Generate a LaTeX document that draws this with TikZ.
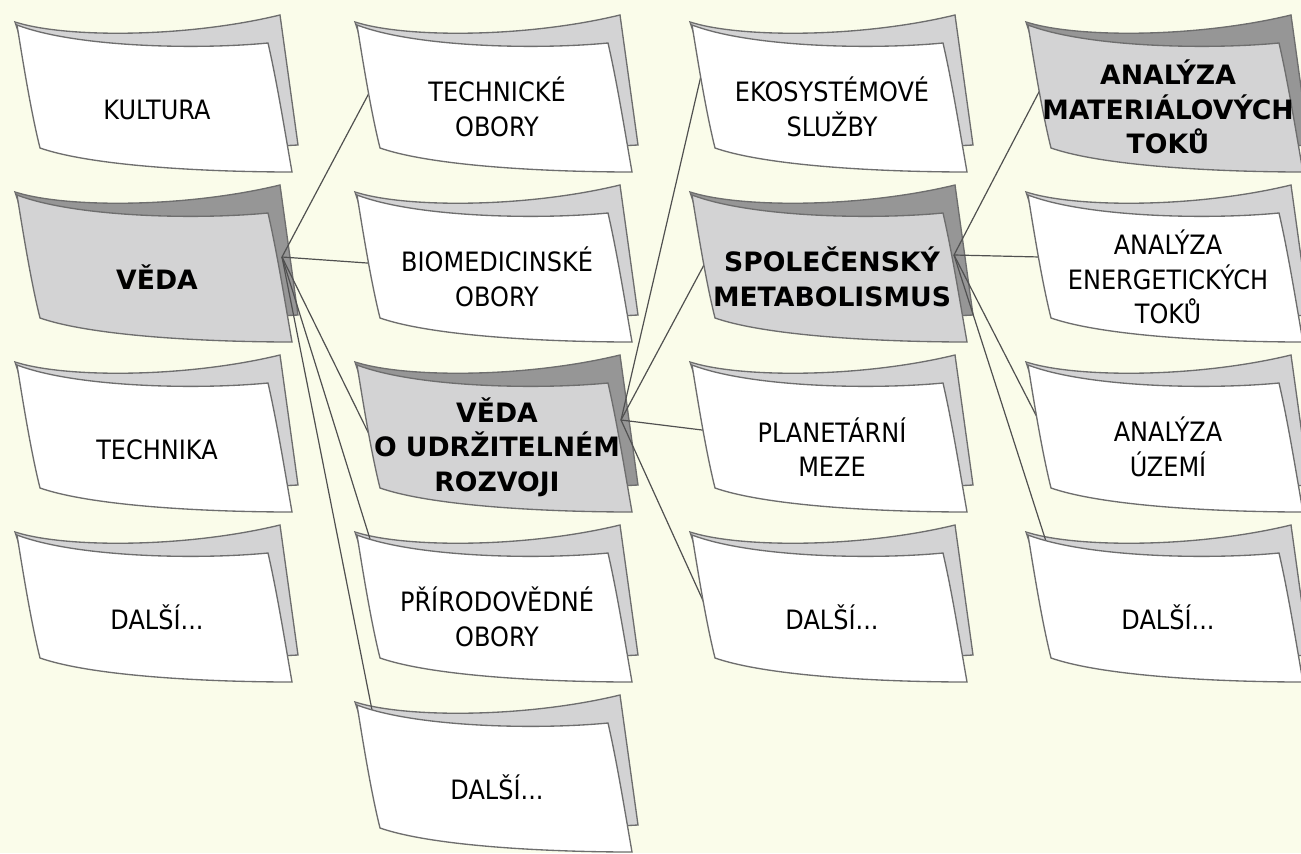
\documentclass[tikz,border=0pt]{standalone}
\usepackage{fontspec}
\setmainfont{DejaVu Sans}
\newfontfamily\condfont{DejaVu Sans}[FakeStretch=0.9]
\usetikzlibrary{calc}

\definecolor{paper}{RGB}{250,252,234}
\definecolor{edgecol}{RGB}{110,110,110}
\definecolor{linkcol}{RGB}{80,80,80}
\definecolor{lightback}{RGB}{211,211,212}
\definecolor{keyfront}{RGB}{211,211,212}
\definecolor{keyback}{RGB}{150,150,150}

\tikzset{
  cardedge/.style={draw=edgecol, line width=1pt},
  link/.style={draw=linkcol, line width=0.9pt, shorten >=-5pt},
  plaintext/.style={font=\condfont\fontsize{20}{26}\selectfont, align=center,
    inner sep=0pt, execute at begin node=\vphantom{Ě}},
  keytext/.style={font=\bfseries\fontsize{20}{26}\selectfont, align=center,
    inner sep=0pt, execute at begin node=\vphantom{Ě}},
}

% back sheet of a card: #1 x, #2 y, #3 fill
\newcommand\cardback[3]{%
  \path[cardedge, fill=#3, shift={(#1,#2)}]
    (0,0) .. controls (50,16) and (170,16) .. (265,-7)
    -- (283,123) -- (150,130) -- (20,60) -- cycle;}

% front sheet with its label: #1 name, #2 x, #3 y, #4 fill, #5 text style, #6 text
\newcommand\cardfront[6]{%
  \begin{scope}[shift={(#2,#3)}]
    \path[cardedge, fill=#4]
      (2,3) .. controls (60,25) and (180,28) .. (253,21)
      .. controls (262,60) and (270,110) .. (277,150)
      .. controls (200,150) and (80,145) .. (25,126)
      .. controls (16,90) and (8,40) .. cycle;
    \node[#5] (#1) at (142,85) {#6};
  \end{scope}}

\begin{document}
\begin{tikzpicture}[x=0.75pt, y=-0.75pt]
  \useasboundingbox (0,0) rectangle (1301,853);
  \clip (0,0) rectangle (1301,853);
  \fill[paper] (0,0) rectangle (1301,853);

  % back sheets
  \cardback{15}{22}{lightback}
  \cardback{15}{192}{keyback}
  \cardback{15}{362}{lightback}
  \cardback{15}{532}{lightback}
  \cardback{355}{22}{lightback}
  \cardback{355}{192}{lightback}
  \cardback{355}{362}{keyback}
  \cardback{355}{532}{lightback}
  \cardback{355}{702}{lightback}
  \cardback{690}{22}{lightback}
  \cardback{690}{192}{keyback}
  \cardback{690}{362}{lightback}
  \cardback{690}{532}{lightback}
  \cardback{1026}{22}{keyback}
  \cardback{1026}{192}{lightback}
  \cardback{1026}{362}{lightback}
  \cardback{1026}{532}{lightback}

  % connector end points
  \coordinate (vedaout) at (282,257);
  \coordinate (sdgout) at (621,420);
  \coordinate (metout) at (954,255);
  \coordinate (in-tech) at (368,95);
  \coordinate (in-bio) at (367,263);
  \coordinate (in-sdg) at (368,432);
  \coordinate (in-nat) at (375,555);
  \coordinate (in-more2) at (375,725);
  \coordinate (in-eco) at (700,80);
  \coordinate (in-met) at (705,263);
  \coordinate (in-planet) at (702,430);
  \coordinate (in-more3) at (705,605);
  \coordinate (in-mfa) at (1040,90);
  \coordinate (in-efa) at (1040,257);
  \coordinate (in-land) at (1040,423);
  \coordinate (in-more4) at (1052,560);

  \draw[link] (vedaout) -- (in-tech);
  \draw[link] (vedaout) -- (in-bio);
  \draw[link] (vedaout) -- (in-sdg);
  \draw[link] (vedaout) -- (in-nat);
  \draw[link] (vedaout) -- (in-more2);
  \draw[link] (sdgout) -- (in-eco);
  \draw[link] (sdgout) -- (in-met);
  \draw[link] (sdgout) -- (in-planet);
  \draw[link] (sdgout) -- (in-more3);
  \draw[link] (metout) -- (in-mfa);
  \draw[link] (metout) -- (in-efa);
  \draw[link] (metout) -- (in-land);
  \draw[link] (metout) -- (in-more4);

  % front sheets
  \cardfront{kultura}{15}{22}{white}{plaintext}{KULTURA}
  \cardfront{veda}{15}{192}{keyfront}{keytext}{VĚDA}
  \cardfront{technika}{15}{362}{white}{plaintext}{TECHNIKA}
  \cardfront{dalsi1}{15}{532}{white}{plaintext}{DALŠÍ...}
  \cardfront{tech}{355}{22}{white}{plaintext}{TECHNICKÉ\\OBORY}
  \cardfront{bio}{355}{192}{white}{plaintext}{BIOMEDICINSKÉ\\OBORY}
  \cardfront{sdg}{355}{362}{keyfront}{keytext}{VĚDA\\O UDRŽITELNÉM\\ROZVOJI}
  \cardfront{nat}{355}{532}{white}{plaintext}{PŘÍRODOVĚDNÉ\\OBORY}
  \cardfront{dalsi2}{355}{702}{white}{plaintext}{DALŠÍ...}
  \cardfront{eco}{690}{22}{white}{plaintext}{EKOSYSTÉMOVÉ\\SLUŽBY}
  \cardfront{met}{690}{192}{keyfront}{keytext}{SPOLEČENSKÝ\\METABOLISMUS}
  \cardfront{planet}{690}{362}{white}{plaintext}{PLANETÁRNÍ\\MEZE}
  \cardfront{dalsi3}{690}{532}{white}{plaintext}{DALŠÍ...}
  \cardfront{mfa}{1026}{22}{keyfront}{keytext}{ANALÝZA\\MATERIÁLOVÝCH\\TOKŮ}
  \cardfront{efa}{1026}{192}{white}{plaintext}{ANALÝZA\\ENERGETICKÝCH\\TOKŮ}
  \cardfront{land}{1026}{362}{white}{plaintext}{ANALÝZA\\ÚZEMÍ}
  \cardfront{dalsi4}{1026}{532}{white}{plaintext}{DALŠÍ...}
\end{tikzpicture}
\end{document}
